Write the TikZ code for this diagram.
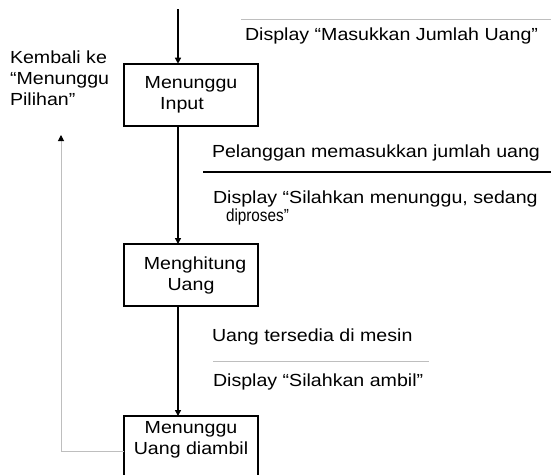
\documentclass[tikz,border=0pt]{standalone}
\usepackage{fontspec}
\setmainfont{Liberation Sans}[FakeStretch=1.12]
\usetikzlibrary{arrows.meta}
\definecolor{rulegray}{RGB}{190,190,190}
\begin{document}
\begin{tikzpicture}[x=1pt, y=-1pt,
  font=\fontsize{17.5}{21}\selectfont,
  box/.style={draw, line width=2pt, minimum width=134pt, minimum height=62pt,
    align=center, inner sep=0pt, outer sep=0pt},
  flow/.style={line width=2pt, -{Triangle[length=6pt,width=6pt]}},
  backflow/.style={rulegray, line width=1pt,
    -{Triangle[length=6pt,width=6pt,color=black,fill=black]}},
  txt/.style={inner sep=0pt, outer sep=0pt, anchor=base west},
  note/.style={inner sep=0pt, outer sep=0pt, anchor=north west, align=left},
  thinrule/.style={rulegray, line width=1pt},
  thickrule/.style={black, line width=2pt}]
  \useasboundingbox[fill=white] (0,0) rectangle (551,474);

  % states
  \node[box] (input) at (191,94.7) {Menunggu\\Input\kern18pt};
  \node[box] (count) at (191,275) {\kern8pt Menghitung\\Uang};
  \node[box, anchor=north, minimum height=0pt, inner ysep=5.5pt] (take) at (191,416)
    {\parbox[t][64pt][t]{134pt}{\centering Menunggu\\Uang diambil}};

  % transitions
  \coordinate (entry) at (178,9);
  \draw[flow] (entry) -- (entry |- input.north);
  \draw[flow] ([xshift=-13pt]input.south) -- ([xshift=-13pt]count.north);
  \draw[flow] ([xshift=-13pt]count.south) -- ([xshift=-13pt]take.north);

  % return path
  \coordinate (back) at (61,135);
  \coordinate (turn) at (61,451);
  \draw[backflow] (turn -| take.west) -- (turn) -- (back);
  \node[note] (ret) at (10,50.8) {Kembali ke\\“Menunggu\\Pilihan”};

  % event / action labels
  \draw[thinrule] (241,19.5) -- (551,19.5);
  \node[txt] (act1) at (245,40) {Display “Masukkan Jumlah Uang”};

  \node[txt] (ev1) at (212,157) {Pelanggan memasukkan jumlah uang};
  \draw[thickrule] (203,172) -- (551,172);
  \node[note, font=\fontsize{17.5}{18}\selectfont] (act2) at (213,190.5)
    {Display “Silahkan menunggu, sedang\\\hspace*{13pt}\scalebox{0.78}[1]{diproses”}};

  \node[txt] (ev2) at (212,341.7) {Uang tersedia di mesin};
  \draw[thinrule] (213,361.7) -- (429,361.7);
  \node[txt] (act3) at (213,386) {Display “Silahkan ambil”};
\end{tikzpicture}
\end{document}
